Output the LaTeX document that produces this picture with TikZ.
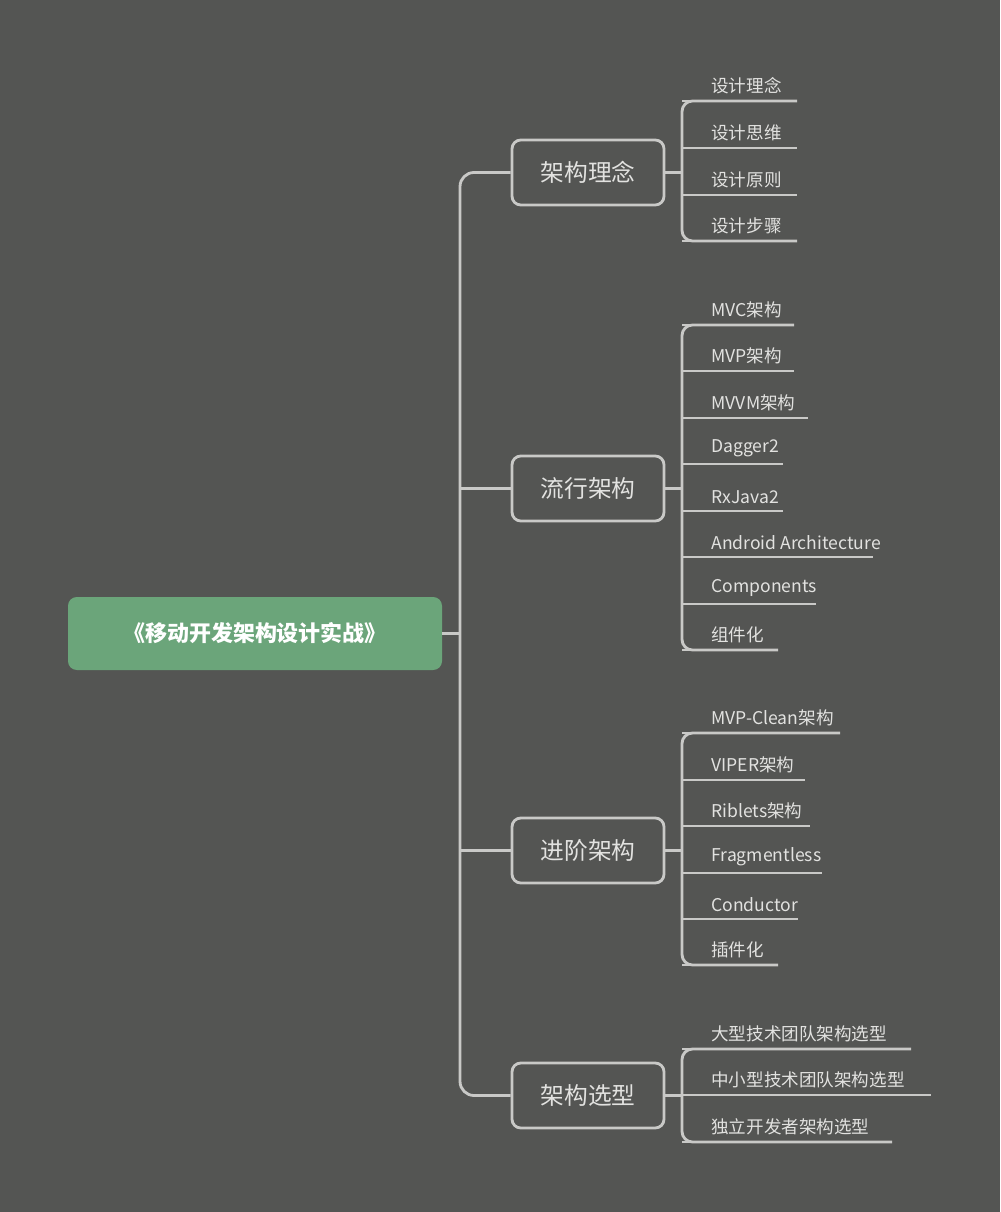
\documentclass[tikz,border=0pt]{standalone}
\usepackage{fontspec}
\setmainfont{Noto Sans CJK SC}
\definecolor{bg}{HTML}{545553}
\definecolor{ln}{HTML}{C9C9C7}
\definecolor{tx}{HTML}{E2E2E0}
\definecolor{rootc}{HTML}{6BA57A}
\tikzset{
 conn/.style={draw=ln,line width=1.6pt},
 branchbox/.style={draw=ln,line width=1.6pt,rounded corners=5pt,minimum width=152*0.02cm,minimum height=65*0.02cm,text=tx,font=\fontsize{13.5}{16}\selectfont},
 rootbox/.style={fill=rootc,rounded corners=5pt,minimum width=374*0.02cm,minimum height=73*0.02cm,text=white,font=\fontsize{12.5}{15}\selectfont\bfseries},
 leaf/.style={anchor=south west,inner sep=0pt,text=tx,font=\fontsize{10}{12}\selectfont}
}
\begin{document}
\begin{tikzpicture}[x=0.02cm,y=-0.02cm]
\fill[bg] (0,0) rectangle (1000,1212);
\useasboundingbox (0,0) rectangle (1000,1212);
\node[rootbox] (root) at (255,633.5) {《移动开发架构设计实战》};
\node[branchbox] (b1) at (588,172.5) {架构理念};
\node[branchbox] (b2) at (588,488.5) {流行架构};
\node[branchbox] (b3) at (588,850.5) {进阶架构};
\node[branchbox] (b4) at (588,1095.5) {架构选型};
\coordinate (t0) at (460,633.5);
\draw[conn] (root.east) -- (t0);
\draw[conn,rounded corners=8pt] (b1.west) -- (460,172.5) -- (460,1095.5) -- (b4.west);
\draw[conn] (b2.west) -- (460,488.5);
\draw[conn] (b3.west) -- (460,850.5);
% leaves
\foreach \t/\y/\e [count=\i] in {设计理念/101/797,设计思维/148/797,设计原则/195/797,设计步骤/241/797,
 MVC架构/325/794,MVP架构/371/794,MVVM架构/418/808,Dagger2/464/783,RxJava2/511/783,Android Architecture/557/873,Components/604/816,组件化/650/778,
 MVP-Clean架构/733/840,VIPER架构/780/805,Riblets架构/826/810,Fragmentless/873/822,Conductor/919/798,插件化/965/778,
 大型技术团队架构选型/1049/911,中小型技术团队架构选型/1095/931,独立开发者架构选型/1142/892}{
 \node[leaf] (l\i) at (711,\y-7) {\t};
 \coordinate (ls\i) at (682,\y);
 \coordinate (le\i) at (\e,\y);
 \draw[conn] (ls\i) -- (le\i);
}
\draw[conn,rounded corners=6pt] (le1) -- (ls1) -- (ls4) -- (le4);
\draw[conn] (b1.east) -- (682,172.5);
\draw[conn,rounded corners=6pt] (le5) -- (ls5) -- (ls12) -- (le12);
\draw[conn] (b2.east) -- (682,488.5);
\draw[conn,rounded corners=6pt] (le13) -- (ls13) -- (ls18) -- (le18);
\draw[conn] (b3.east) -- (682,850.5);
\draw[conn,rounded corners=6pt] (le19) -- (ls19) -- (ls21) -- (le21);
\draw[conn] (b4.east) -- (682,1095.5);
\end{tikzpicture}
\end{document}
